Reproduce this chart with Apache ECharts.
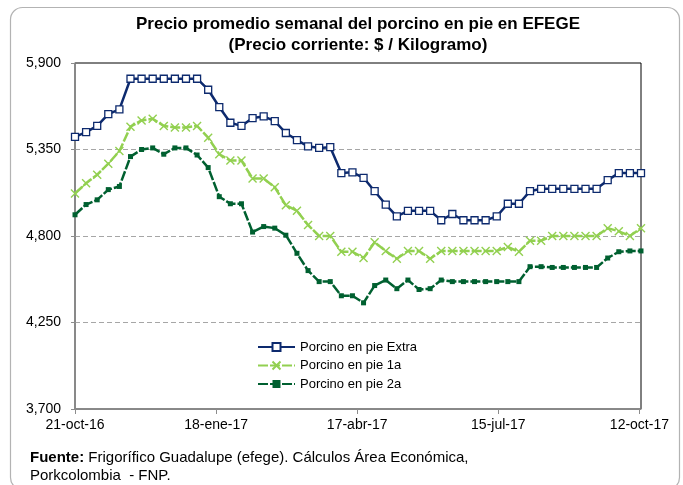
<!DOCTYPE html>
<html>
<head>
<meta charset="utf-8">
<script src="https://cdn.jsdelivr.net/npm/echarts@6/dist/echarts.min.js"></script>
<style>
html,body{margin:0;padding:0;background:#fff;}
#chart{width:683px;height:485px;}
</style>
</head>
<body>
<div id="chart"></div>
<script>
// Weekly dates (x positions)
var weeks = ['2016-10-21','2016-10-28','2016-11-04','2016-11-11','2016-11-18','2016-11-25','2016-12-02','2016-12-09','2016-12-16','2016-12-23','2016-12-30',
  '2017-01-06','2017-01-13','2017-01-20','2017-01-27','2017-02-03','2017-02-10','2017-02-17','2017-02-24','2017-03-03','2017-03-10','2017-03-17','2017-03-24','2017-03-31',
  '2017-04-07','2017-04-14','2017-04-21','2017-04-28','2017-05-05','2017-05-12','2017-05-19','2017-05-26','2017-06-02','2017-06-09','2017-06-16','2017-06-23','2017-06-30',
  '2017-07-07','2017-07-14','2017-07-21','2017-07-28','2017-08-04','2017-08-11','2017-08-18','2017-08-25','2017-09-01','2017-09-08','2017-09-15','2017-09-22','2017-09-29',
  '2017-10-06','2017-10-13'];

var extra = [5430,5460,5500,5575,5605,5800,5800,5800,5800,5800,5800,5800,
  5730,5620,5520,5500,5550,5560,5530,5455,5410,5370,5360,5365,
  5200,5205,5170,5085,5000,4925,4960,4960,4960,4900,4940,4900,
  4900,4900,4925,5005,5005,5085,5100,5100,5100,5100,5100,5100,
  5155,5200,5200,5200];

var primera = [5070,5135,5190,5260,5340,5495,5535,5545,5500,5490,5490,5500,
  5425,5320,5280,5280,5165,5165,5110,4995,4960,4870,4800,4800,
  4700,4700,4660,4760,4705,4655,4705,4705,4655,4705,4705,4705,
  4705,4705,4705,4730,4700,4770,4770,4800,4800,4800,4800,4800,
  4850,4830,4800,4850];

var segunda = [4935,5000,5030,5095,5115,5305,5350,5360,5320,5360,5360,5315,
  5235,5050,5005,5005,4825,4860,4850,4805,4690,4580,4510,4510,
  4420,4420,4375,4485,4520,4465,4520,4460,4465,4520,4510,4510,
  4510,4510,4510,4510,4510,4605,4605,4600,4600,4600,4600,4600,
  4660,4700,4705,4705];

var seriesNames = ['Porcino en pie Extra','Porcino en pie 1a','Porcino en pie 2a'];
var tickDates = ['2016-10-21','2017-01-18','2017-04-17','2017-07-15','2017-10-12'];
var tickLabels = ['21-oct-16','18-ene-17','17-abr-17','15-jul-17','12-oct-17'];
var yTicks = [3700,4250,4800,5350,5900];

function dayOffset(d){
  var p = d.split('-'), q = weeks[0].split('-');
  return Math.round((Date.UTC(+p[0],+p[1]-1,+p[2]) - Date.UTC(+q[0],+q[1]-1,+q[2]))/86400000);
}
var xs = weeks.map(dayOffset);
var tickX = tickDates.map(dayOffset);
function pairs(vals){ return vals.map(function(v,i){ return [xs[i], v]; }); }

var chart = echarts.init(document.getElementById('chart'), null, {renderer:'canvas'});
var font = 'Liberation Sans, Arial, sans-serif';
var option = {
  backgroundColor:'#ffffff',
  animation:false,
  textStyle:{fontFamily:font},
  title:{
    text:'Precio promedio semanal del porcino en pie en EFEGE\n(Precio corriente: $ / Kilogramo)',
    left:353, top:9, textAlign:'center',
    textStyle:{fontSize:17, fontWeight:'bold', color:'#000', lineHeight:21, fontFamily:font}
  },
  grid:{left:75, right:42, top:63, bottom:76, show:true, borderColor:'#000', borderWidth:1, backgroundColor:'transparent'},
  legend:{
    orient:'vertical', left:252, top:335, itemWidth:37, itemHeight:10, itemGap:4.5,
    data:seriesNames,
    textStyle:{fontSize:13, color:'#000', lineHeight:14, fontFamily:font}
  },
  xAxis:{
    type:'value', min:xs[0], max:xs[xs.length-1],
    axisLine:{show:true, lineStyle:{color:'#8c8c8c', width:1.5}},
    axisTick:{show:true, length:5, lineStyle:{color:'#8c8c8c'}, customValues:tickX},
    axisLabel:{fontSize:14, color:'#000', margin:9, customValues:tickX,
      formatter:function(v){ var k = tickX.indexOf(v); return k>=0 ? tickLabels[k] : ''; }},
    splitLine:{show:false}
  },
  yAxis:{
    type:'value', min:yTicks[0], max:yTicks[yTicks.length-1], interval:550,
    axisLine:{show:true, lineStyle:{color:'#8c8c8c', width:1.5}},
    axisTick:{show:true, length:4, lineStyle:{color:'#8c8c8c'}},
    axisLabel:{fontSize:14, color:'#000', margin:14,
      formatter:function(v){ return v.toLocaleString('en-US'); }},
    splitLine:{show:true, showMinLine:false, showMaxLine:false, lineStyle:{color:'#a6a6a6', type:[5,3], width:1}}
  },
  series:[
    {
      name:seriesNames[0], type:'line', data:pairs(extra),
      symbol:'rect', symbolSize:7, showAllSymbol:true,
      lineStyle:{color:'#0d2a6e', width:2.5},
      itemStyle:{color:'#ffffff', borderColor:'#0d2a6e', borderWidth:1.3},
      z:5
    },
    {
      name:seriesNames[1], type:'line', data:pairs(primera),
      symbol:'path://M0,0L10,10M10,0L0,10', symbolSize:8, showAllSymbol:true,
      lineStyle:{color:'#92d050', width:2.5, type:[10,2]},
      itemStyle:{color:'#92d050', borderColor:'#92d050', borderWidth:1.4},
      z:4
    },
    {
      name:seriesNames[2], type:'line', data:pairs(segunda),
      symbol:'rect', symbolSize:5, showAllSymbol:true,
      lineStyle:{color:'#006030', width:2.5, type:[10,2]},
      itemStyle:{color:'#006030', borderColor:'#006030', borderWidth:0},
      z:3
    }
  ],
  graphic:[
    {type:'rect', left:8, top:5, shape:{width:669, height:482, r:12}, silent:true, z:-10,
      style:{fill:'none', stroke:'#b3b3b3', lineWidth:1.2}},
    {type:'text', left:30, top:449, silent:true,
      style:{
        text:'{b|Fuente:} Frigorífico Guadalupe (efege). Cálculos Área Económica,\nPorkcolombia  - FNP.',
        rich:{b:{fontWeight:'bold', fontSize:15, fontFamily:font, fill:'#000', lineHeight:18}},
        font:'15px Liberation Sans, Arial, sans-serif', fill:'#000', lineHeight:18
      }}
  ]
};
chart.setOption(option);
</script>
</body>
</html>
